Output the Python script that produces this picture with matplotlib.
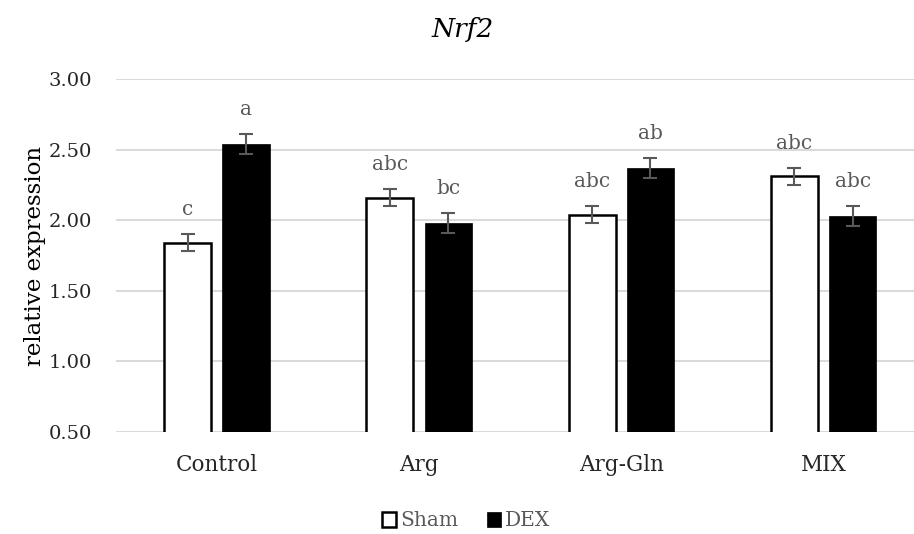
import numpy as np
import matplotlib.pyplot as plt

groups = ['Control', 'Arg', 'Arg-Gln', 'MIX']
sham = [1.84, 2.16, 2.04, 2.31]
dex = [2.54, 1.98, 2.37, 2.03]
sham_err = [0.06, 0.06, 0.06, 0.06]
dex_err = [0.07, 0.07, 0.07, 0.07]
sham_lbl = ['c', 'abc', 'abc', 'abc']
dex_lbl = ['a', 'bc', 'ab', 'abc']

plt.rcParams['font.family'] = ['DejaVu Serif']

fig = plt.figure(figsize=(9.14, 5.34), dpi=100)
ax = fig.add_axes([0.1266, 0.191, 0.885, 0.661])

x = np.arange(len(groups))
w = 0.233
off = 0.144
ecol = '#595959'

b1 = ax.bar(x - off, sham, w, color='white', edgecolor='black', linewidth=1.8,
            label='Sham', zorder=3)
b2 = ax.bar(x + off, dex, w, color='black', edgecolor='black', linewidth=0.5,
            label='DEX', zorder=3)
ax.errorbar(x - off, sham, yerr=sham_err, fmt='none', ecolor=ecol, elinewidth=1.5,
            capsize=5, capthick=1.5, zorder=4)
ax.errorbar(x + off, dex, yerr=dex_err, fmt='none', ecolor=ecol, elinewidth=1.5,
            capsize=5, capthick=1.5, zorder=4)

# letters above the bars
for xi, v, e, t in zip(x - off, sham, sham_err, sham_lbl):
    ax.annotate(t, (xi, v + e), xytext=(0, 11), textcoords='offset points',
                ha='center', va='bottom', fontsize=14.5, color=ecol)
for xi, v, e, t in zip(x + off, dex, dex_err, dex_lbl):
    ax.annotate(t, (xi, v + e), xytext=(0, 11), textcoords='offset points',
                ha='center', va='bottom', fontsize=14.5, color=ecol)

ax.set_xlim(-0.5, 3.5)
ax.set_ylim(0.5, 3.0)
ax.set_yticks([0.5, 1.0, 1.5, 2.0, 2.5, 3.0])
ax.set_yticklabels(['%.2f' % v for v in [0.5, 1.0, 1.5, 2.0, 2.5, 3.0]])
ax.set_xticks(x)
ax.set_xticklabels(groups)
ax.tick_params(axis='y', length=0, labelsize=14, colors='#262626', pad=17)
ax.tick_params(axis='x', length=0, labelsize=15.5, colors='#262626', pad=16)
ax.grid(axis='y', color='#d9d9d9', linewidth=1.4, zorder=0)
for s in ['top', 'right', 'left', 'bottom']:
    ax.spines[s].set_visible(False)

ax.set_ylabel('relative expression', fontsize=16.5, color='black', labelpad=2)
fig.text(463 / 914, 1 - 30 / 534, 'Nrf2', ha='center', va='center',
         fontsize=19, style='italic')

fig.legend(handles=[b1, b2], labels=['Sham', 'DEX'], loc='center',
           bbox_to_anchor=(466 / 914, 1 - 521 / 534), ncol=2, frameon=False,
           fontsize=14.5, handlelength=0.7, handleheight=0.7, handletextpad=0.2,
           columnspacing=1.4, labelcolor=ecol)

fig.savefig('out.png', dpi=100)
